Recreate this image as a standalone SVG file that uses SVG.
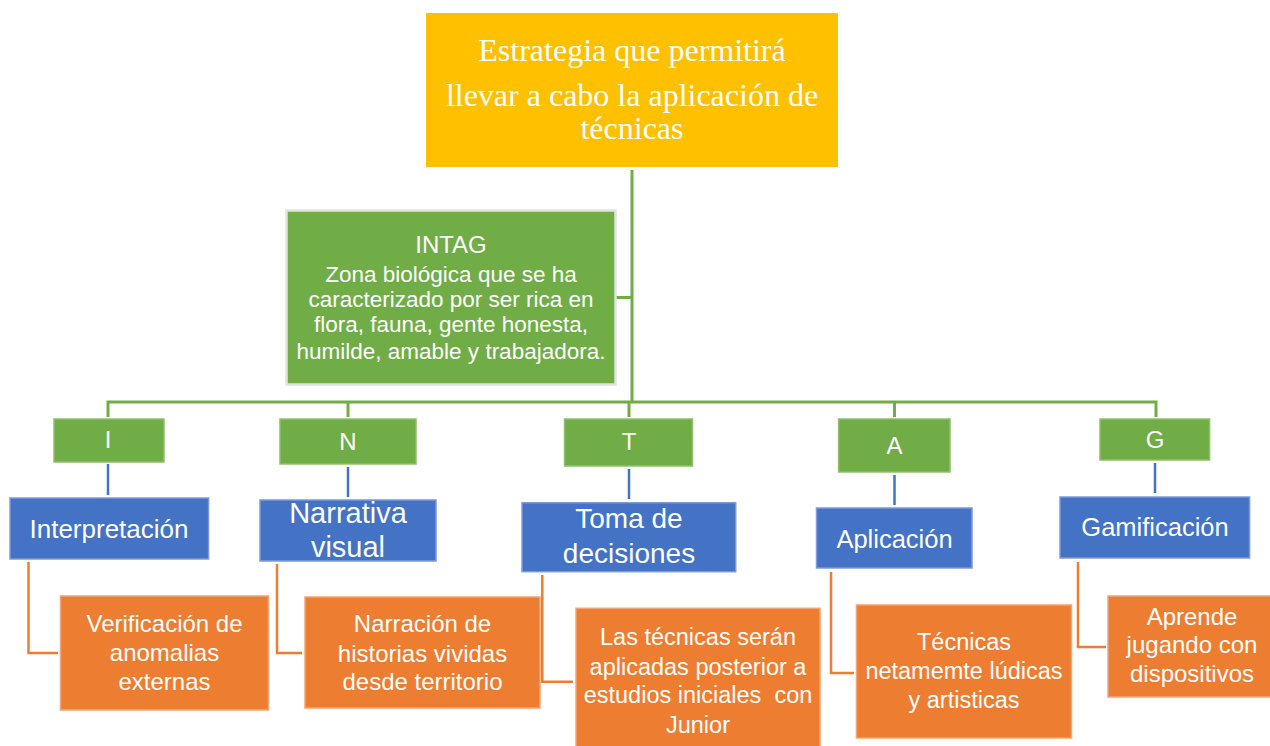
<svg xmlns="http://www.w3.org/2000/svg" width="1270" height="746" viewBox="0 0 1270 746">
<style>
.bg{fill:#ffffff}
.top{fill:#FFC000}
.grn{fill:#70AD47;stroke:#8fc06b;stroke-width:1.5}
.intag{fill:#70AD47;stroke:#e2e2e2;stroke-width:2.5}
.blu{fill:#4472C4;stroke:#7e9bd6;stroke-width:1.5}
.org{fill:#ED7D31;stroke:#f3a478;stroke-width:1.5}
.gl{fill:none;stroke:#70AD47;stroke-width:3}
.bl{fill:none;stroke:#4472C4;stroke-width:2.5}
.ol{fill:none;stroke:#ED7D31;stroke-width:2.5}
text{fill:#ffffff;text-anchor:middle;font-family:"Liberation Sans",Arial,sans-serif}
.serif{font-family:"Liberation Serif","Times New Roman",serif;font-size:32px}
.t23{font-size:23.5px}
.t24{font-size:24px}
.t22{font-size:22.5px}
.t26{font-size:26px}
.t28{font-size:28px}
.lt{font-size:24px}
</style>
<rect class="bg" x="0" y="0" width="1270" height="746"/>
<g id="connectors">
<path class="gl" d="M632 170 V402"/>
<path class="gl" d="M616 297.5 H632"/>
<path class="gl" d="M108 417 V402 H1156 V417"/>
<path class="gl" d="M348 402 V417"/>
<path class="gl" d="M629 402 V417"/>
<path class="gl" d="M894.5 402 V417"/>
<path class="bl" d="M108 464 V495"/>
<path class="bl" d="M348 467 V497"/>
<path class="bl" d="M629 469 V499"/>
<path class="bl" d="M894.5 475 V505"/>
<path class="bl" d="M1155 463 V493"/>
<path class="ol" d="M28.5 562 V653 H58"/>
<path class="ol" d="M277 564 V653 H302"/>
<path class="ol" d="M542.3 575 V681.7 H573"/>
<path class="ol" d="M831 572 V673 H854"/>
<path class="ol" d="M1078 562 V647 H1106"/>
</g>
<g id="top">
<rect class="top" x="426" y="13" width="412" height="154"/>
<text class="serif" x="632" y="61">Estrategia que permitirá</text>
<text class="serif" x="632" y="106">llevar a cabo la aplicación de</text>
<text class="serif" x="632" y="139">técnicas</text>
</g>
<g id="intag">
<rect class="intag" x="286.5" y="210.5" width="329" height="174"/>
<text class="t24" x="451" y="253">INTAG</text>
<text class="t22" x="451" y="281.7">Zona biológica que se ha</text>
<text class="t22" x="451" y="307.3">caracterizado por ser rica en</text>
<text class="t22" x="451" y="332.3">flora, fauna, gente honesta,</text>
<text class="t22" x="451" y="359">humilde, amable y trabajadora.</text>
</g>
<g id="node-I">
<rect class="grn" x="54" y="419" width="110" height="43"/>
<text class="lt" x="108" y="448">I</text>
</g>
<g id="node-N">
<rect class="grn" x="280" y="419" width="136" height="45"/>
<text class="lt" x="348" y="450">N</text>
</g>
<g id="node-T">
<rect class="grn" x="564.5" y="419" width="128" height="47"/>
<text class="lt" x="629" y="450">T</text>
</g>
<g id="node-A">
<rect class="grn" x="838.6" y="419" width="111.4" height="53"/>
<text class="lt" x="894.5" y="454">A</text>
</g>
<g id="node-G">
<rect class="grn" x="1100" y="419" width="109.6" height="41"/>
<text class="lt" x="1155" y="448">G</text>
</g>
<g id="interpretacion">
<rect class="blu" x="10" y="498" width="198.6" height="61"/>
<text class="t26" x="109" y="538">Interpretación</text>
</g>
<g id="narrativa">
<rect class="blu" x="260" y="500" width="176" height="61"/>
<text x="348" y="522.7" style="font-size:29px">Narrativa</text>
<text x="348" y="556.7" style="font-size:29px">visual</text>
</g>
<g id="toma">
<rect class="blu" x="522" y="502.7" width="213.7" height="69"/>
<text class="t28" x="629" y="528">Toma de</text>
<text class="t28" x="629" y="563">decisiones</text>
</g>
<g id="aplicacion">
<rect class="blu" x="816.5" y="508" width="155.5" height="60"/>
<text x="894.5" y="548" style="font-size:25.5px">Aplicación</text>
</g>
<g id="gamificacion">
<rect class="blu" x="1060" y="497" width="189.6" height="61"/>
<text x="1155" y="536" style="font-size:25.5px">Gamificación</text>
</g>
<g id="verificacion">
<rect class="org" x="60.5" y="596" width="208" height="114"/>
<text class="t24" x="164.5" y="631.7">Verificación de</text>
<text class="t24" x="164.5" y="661">anomalias</text>
<text class="t24" x="164.5" y="690">externas</text>
</g>
<g id="narracion">
<rect class="org" x="305" y="597" width="235" height="111"/>
<text class="t24" x="422.5" y="631.7">Narración de</text>
<text class="t24" x="422.5" y="661.7">historias vividas</text>
<text class="t24" x="422.5" y="690">desde territorio</text>
</g>
<g id="lastecnicas">
<rect class="org" x="576" y="608.3" width="244" height="140"/>
<text class="t23" x="698" y="645">Las técnicas serán</text>
<text class="t23" x="698" y="675">aplicadas posterior a</text>
<text class="t23" x="698" y="703" xml:space="preserve">estudios iniciales  con</text>
<text class="t23" x="698" y="732.7">Junior</text>
</g>
<g id="tecnicas">
<rect class="org" x="856.5" y="605" width="215" height="133"/>
<text class="t23" x="964" y="650">Técnicas</text>
<text class="t23" x="964" y="679">netamemte lúdicas</text>
<text class="t23" x="964" y="708">y artisticas</text>
</g>
<g id="aprende">
<rect class="org" x="1108" y="596" width="164" height="101"/>
<text class="t24" x="1192" y="625">Aprende</text>
<text class="t24" x="1192" y="653">jugando con</text>
<text class="t24" x="1192" y="682">dispositivos</text>
</g>
</svg>
